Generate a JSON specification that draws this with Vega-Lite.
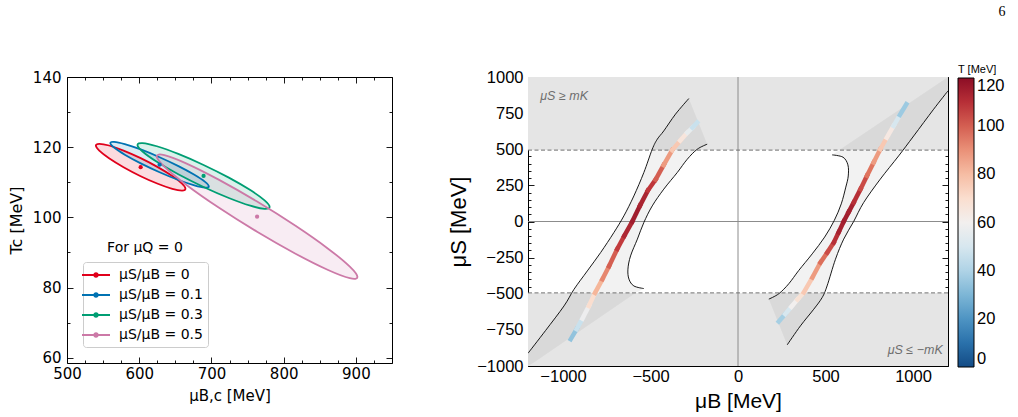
{
 "$schema": "https://vega.github.io/schema/vega-lite/v6.json",
 "background": "white",
 "padding": {"left": 7, "top": 4, "right": 5, "bottom": 5},
 "title": {"text": "6", "anchor": "end", "frame": "bounds", "font": "Liberation Serif", "fontSize": 14, "fontWeight": "normal", "color": "black", "offset": 45},
 "config": {
  "view": {"stroke": "black", "strokeWidth": 1},
  "axis": {"domain": false, "grid": false, "tickColor": "black", "labelColor": "black", "titleColor": "black", "titleFontWeight": "normal", "tickWidth": 0.9, "labelFlush": false, "labelOverlap": false}
 },
 "bounds": "flush",
 "spacing": 136,
 "resolve": {"scale": {"color": "independent"}, "legend": {"color": "independent"}},
 "datasets": {
  "ell": [
   {"s":"0","i":0,"x":664.0,"y":108.14},{"s":"0","i":1,"x":659.3,"y":109.59},{"s":"0","i":2,"x":645.8,"y":111.76},{"s":"0","i":3,"x":625.7,"y":114.31},
   {"s":"0","i":4,"x":602.0,"y":116.87},{"s":"0","i":5,"x":578.3,"y":119.03},{"s":"0","i":6,"x":558.2,"y":120.48},{"s":"0","i":7,"x":544.7,"y":120.97},
   {"s":"0","i":8,"x":540.0,"y":120.46},{"s":"0","i":9,"x":544.7,"y":119.01},{"s":"0","i":10,"x":558.2,"y":116.84},{"s":"0","i":11,"x":578.3,"y":114.29},
   {"s":"0","i":12,"x":602.0,"y":111.73},{"s":"0","i":13,"x":625.7,"y":109.57},{"s":"0","i":14,"x":645.8,"y":108.12},{"s":"0","i":15,"x":659.3,"y":107.63},
   {"s":"0.1","i":0,"x":696.4,"y":108.82},{"s":"0.1","i":1,"x":691.2,"y":110.11},{"s":"0.1","i":2,"x":676.4,"y":112.14},{"s":"0.1","i":3,"x":654.3,"y":114.61},
   {"s":"0.1","i":4,"x":628.2,"y":117.14},{"s":"0.1","i":5,"x":602.1,"y":119.35},{"s":"0.1","i":6,"x":580.0,"y":120.88},{"s":"0.1","i":7,"x":565.2,"y":121.53},
   {"s":"0.1","i":8,"x":560.0,"y":121.18},{"s":"0.1","i":9,"x":565.2,"y":119.89},{"s":"0.1","i":10,"x":580.0,"y":117.86},{"s":"0.1","i":11,"x":602.1,"y":115.39},
   {"s":"0.1","i":12,"x":628.2,"y":112.86},{"s":"0.1","i":13,"x":654.3,"y":110.65},{"s":"0.1","i":14,"x":676.4,"y":109.12},{"s":"0.1","i":15,"x":691.2,"y":108.47},
   {"s":"0.3","i":0,"x":780.6,"y":102.96},{"s":"0.3","i":1,"x":773.6,"y":104.83},{"s":"0.3","i":2,"x":753.8,"y":107.77},{"s":"0.3","i":3,"x":724.1,"y":111.32},
   {"s":"0.3","i":4,"x":689.1,"y":114.94},{"s":"0.3","i":5,"x":654.1,"y":118.08},{"s":"0.3","i":6,"x":624.4,"y":120.27},{"s":"0.3","i":7,"x":604.6,"y":121.17},
   {"s":"0.3","i":8,"x":597.6,"y":120.64},{"s":"0.3","i":9,"x":604.6,"y":118.77},{"s":"0.3","i":10,"x":624.4,"y":115.83},{"s":"0.3","i":11,"x":654.1,"y":112.28},
   {"s":"0.3","i":12,"x":689.1,"y":108.66},{"s":"0.3","i":13,"x":724.1,"y":105.52},{"s":"0.3","i":14,"x":753.8,"y":103.33},{"s":"0.3","i":15,"x":773.6,"y":102.43},
   {"s":"0.5","i":0,"x":902.2,"y":83.0},{"s":"0.5","i":1,"x":891.6,"y":85.96},{"s":"0.5","i":2,"x":861.5,"y":91.08},{"s":"0.5","i":3,"x":816.4,"y":97.59},
   {"s":"0.5","i":4,"x":763.2,"y":104.5},{"s":"0.5","i":5,"x":710.0,"y":110.75},{"s":"0.5","i":6,"x":664.9,"y":115.4},{"s":"0.5","i":7,"x":634.8,"y":117.74},
   {"s":"0.5","i":8,"x":624.2,"y":117.4},{"s":"0.5","i":9,"x":634.8,"y":114.44},{"s":"0.5","i":10,"x":664.9,"y":109.32},{"s":"0.5","i":11,"x":710.0,"y":102.81},
   {"s":"0.5","i":12,"x":763.2,"y":95.9},{"s":"0.5","i":13,"x":816.4,"y":89.65},{"s":"0.5","i":14,"x":861.5,"y":85.0},{"s":"0.5","i":15,"x":891.6,"y":82.66}
  ],
  "cent": [
   {"s":"0","x":602.0,"y":114.3},{"s":"0.1","x":628.2,"y":115.0},{"s":"0.3","x":689.1,"y":111.8},{"s":"0.5","x":763.2,"y":100.2}
  ],
  "gray": [
   {"x":-1200,"x2":1200,"y":494,"y2":1000},{"x":-1200,"x2":1200,"y":-1000,"y2":-494}
  ],
  "bands": [
   {"b":"L","i":0,"x":-1200,"y":-912},{"b":"L","i":1,"x":-1100,"y":-755},{"b":"L","i":2,"x":-994,"y":-584},{"b":"L","i":3,"x":-937,"y":-469},
   {"b":"L","i":4,"x":-861,"y":-342},{"b":"L","i":5,"x":-785,"y":-215},{"b":"L","i":6,"x":-709,"y":-76},{"b":"L","i":7,"x":-652,"y":39},
   {"b":"L","i":8,"x":-595,"y":177},{"b":"L","i":9,"x":-538,"y":339},{"b":"L","i":10,"x":-490,"y":500},{"b":"L","i":11,"x":-461,"y":570},
   {"b":"L","i":12,"x":-424,"y":627},{"b":"L","i":13,"x":-357,"y":743},{"b":"L","i":14,"x":-281,"y":851},{"b":"L","i":15,"x":-176,"y":535},
   {"b":"L","i":16,"x":-233,"y":500},{"b":"L","i":17,"x":-290,"y":431},{"b":"L","i":18,"x":-347,"y":339},{"b":"L","i":19,"x":-424,"y":224},
   {"b":"L","i":20,"x":-490,"y":108},{"b":"L","i":21,"x":-538,"y":-7},{"b":"L","i":22,"x":-575,"y":-122},{"b":"L","i":23,"x":-614,"y":-238},
   {"b":"L","i":24,"x":-629,"y":-330},{"b":"L","i":25,"x":-623,"y":-399},{"b":"L","i":26,"x":-595,"y":-446},{"b":"L","i":27,"x":-538,"y":-464},
   {"b":"L","i":28,"x":-592,"y":-500},{"b":"L","i":29,"x":-1166,"y":-976},{"b":"L","i":30,"x":-1200,"y":-1000},
   {"b":"R","i":0,"x":1200,"y":904},{"b":"R","i":1,"x":1118,"y":777},{"b":"R","i":2,"x":1004,"y":592},{"b":"R","i":3,"x":918,"y":454},
   {"b":"R","i":4,"x":813,"y":293},{"b":"R","i":5,"x":718,"y":131},{"b":"R","i":6,"x":661,"y":0},{"b":"R","i":7,"x":604,"y":-122},
   {"b":"R","i":8,"x":557,"y":-261},{"b":"R","i":9,"x":509,"y":-446},{"b":"R","i":10,"x":481,"y":-526},{"b":"R","i":11,"x":433,"y":-607},
   {"b":"R","i":12,"x":357,"y":-722},{"b":"R","i":13,"x":281,"y":-854},{"b":"R","i":14,"x":176,"y":-537},{"b":"R","i":15,"x":233,"y":-500},
   {"b":"R","i":16,"x":290,"y":-431},{"b":"R","i":17,"x":347,"y":-339},{"b":"R","i":18,"x":424,"y":-224},{"b":"R","i":19,"x":495,"y":-108},
   {"b":"R","i":20,"x":550,"y":7},{"b":"R","i":21,"x":590,"y":122},{"b":"R","i":22,"x":616,"y":238},{"b":"R","i":23,"x":630,"y":315},
   {"b":"R","i":24,"x":628,"y":392},{"b":"R","i":25,"x":600,"y":445},{"b":"R","i":26,"x":538,"y":461},{"b":"R","i":27,"x":585,"y":500},
   {"b":"R","i":28,"x":1200,"y":1000}
  ],
  "curves": [
   {"c":"L1","i":0,"x":-1200,"y":-912},{"c":"L1","i":1,"x":-1100,"y":-755},{"c":"L1","i":2,"x":-994,"y":-584},{"c":"L1","i":3,"x":-937,"y":-469},
   {"c":"L1","i":4,"x":-861,"y":-342},{"c":"L1","i":5,"x":-785,"y":-215},{"c":"L1","i":6,"x":-709,"y":-76},{"c":"L1","i":7,"x":-652,"y":39},
   {"c":"L1","i":8,"x":-595,"y":177},{"c":"L1","i":9,"x":-538,"y":339},{"c":"L1","i":10,"x":-490,"y":500},{"c":"L1","i":11,"x":-461,"y":570},
   {"c":"L1","i":12,"x":-424,"y":627},{"c":"L1","i":13,"x":-357,"y":743},{"c":"L1","i":14,"x":-281,"y":851},
   {"c":"L2","i":0,"x":-176,"y":535},{"c":"L2","i":1,"x":-233,"y":500},{"c":"L2","i":2,"x":-290,"y":431},{"c":"L2","i":3,"x":-347,"y":339},
   {"c":"L2","i":4,"x":-424,"y":224},{"c":"L2","i":5,"x":-490,"y":108},{"c":"L2","i":6,"x":-538,"y":-7},{"c":"L2","i":7,"x":-575,"y":-122},
   {"c":"L2","i":8,"x":-614,"y":-238},{"c":"L2","i":9,"x":-629,"y":-330},{"c":"L2","i":10,"x":-623,"y":-399},{"c":"L2","i":11,"x":-595,"y":-446},
   {"c":"L2","i":12,"x":-538,"y":-464},
   {"c":"R1","i":0,"x":538,"y":461},{"c":"R1","i":1,"x":600,"y":445},{"c":"R1","i":2,"x":628,"y":392},{"c":"R1","i":3,"x":630,"y":315},
   {"c":"R1","i":4,"x":616,"y":238},{"c":"R1","i":5,"x":590,"y":122},{"c":"R1","i":6,"x":550,"y":7},{"c":"R1","i":7,"x":495,"y":-108},
   {"c":"R1","i":8,"x":424,"y":-224},{"c":"R1","i":9,"x":347,"y":-339},{"c":"R1","i":10,"x":290,"y":-431},{"c":"R1","i":11,"x":233,"y":-500},
   {"c":"R1","i":12,"x":176,"y":-537},
   {"c":"R2","i":0,"x":1200,"y":904},{"c":"R2","i":1,"x":1118,"y":777},{"c":"R2","i":2,"x":1004,"y":592},{"c":"R2","i":3,"x":918,"y":454},
   {"c":"R2","i":4,"x":813,"y":293},{"c":"R2","i":5,"x":718,"y":131},{"c":"R2","i":6,"x":661,"y":0},{"c":"R2","i":7,"x":604,"y":-122},
   {"c":"R2","i":8,"x":557,"y":-261},{"c":"R2","i":9,"x":509,"y":-446},{"c":"R2","i":10,"x":481,"y":-526},{"c":"R2","i":11,"x":433,"y":-607},
   {"c":"R2","i":12,"x":357,"y":-722},{"c":"R2","i":13,"x":281,"y":-854}
  ],
  "segs": [
   {"x":-956,"y":-815,"x2":-922,"y2":-745,"T":34},{"x":-922,"y":-745,"x2":-889,"y2":-672,"T":46},{"x":-889,"y":-672,"x2":-852,"y2":-585,"T":58},
   {"x":-852,"y":-585,"x2":-817,"y2":-494,"T":70},{"x":-817,"y":-494,"x2":-775,"y2":-400,"T":82},{"x":-775,"y":-400,"x2":-737,"y2":-310,"T":92},
   {"x":-737,"y":-310,"x2":-690,"y2":-190,"T":100},{"x":-690,"y":-190,"x2":-650,"y2":-100,"T":107},{"x":-650,"y":-100,"x2":-604,"y2":0,"T":112},
   {"x":-604,"y":0,"x2":-560,"y2":110,"T":115},{"x":-560,"y":110,"x2":-515,"y2":215,"T":113},{"x":-515,"y":215,"x2":-471,"y2":290,"T":108},
   {"x":-471,"y":290,"x2":-425,"y2":390,"T":100},{"x":-425,"y":390,"x2":-376,"y2":494,"T":88},{"x":-376,"y":494,"x2":-330,"y2":560,"T":77},
   {"x":-330,"y":560,"x2":-290,"y2":615,"T":66},{"x":-290,"y":615,"x2":-260,"y2":650,"T":56},{"x":-260,"y":650,"x2":-233,"y2":685,"T":46},
   {"x":233,"y":-692,"x2":270,"y2":-640,"T":38},{"x":270,"y":-640,"x2":305,"y2":-590,"T":50},{"x":305,"y":-590,"x2":340,"y2":-540,"T":60},
   {"x":340,"y":-540,"x2":376,"y2":-491,"T":68},{"x":376,"y":-491,"x2":425,"y2":-388,"T":77},{"x":425,"y":-388,"x2":471,"y2":-284,"T":88},
   {"x":471,"y":-284,"x2":510,"y2":-215,"T":97},{"x":510,"y":-215,"x2":547,"y2":-146,"T":104},{"x":547,"y":-146,"x2":575,"y2":-75,"T":110},
   {"x":575,"y":-75,"x2":604,"y2":0,"T":114},{"x":604,"y":0,"x2":632,"y2":65,"T":115},{"x":632,"y":65,"x2":661,"y2":131,"T":114},
   {"x":661,"y":131,"x2":700,"y2":224,"T":110},{"x":700,"y":224,"x2":737,"y2":316,"T":104},{"x":737,"y":316,"x2":775,"y2":408,"T":96},
   {"x":775,"y":408,"x2":813,"y2":500,"T":88},{"x":813,"y":500,"x2":850,"y2":580,"T":77},{"x":850,"y":580,"x2":889,"y2":662,"T":64},
   {"x":889,"y":662,"x2":925,"y2":737,"T":50},{"x":925,"y":737,"x2":962,"y2":812,"T":36}
  ]
 },
 "hconcat": [
  {
   "width": 325, "height": 286,
   "layer": [
    {
     "data": {"name": "ell"},
     "mark": {"type": "line", "filled": true, "interpolate": "cardinal-closed", "fillOpacity": 0.14, "strokeWidth": 0},
     "encoding": {
      "x": {"field": "x", "type": "quantitative", "scale": {"domain": [500, 950], "nice": false, "zero": false},
            "axis": {"orient": "bottom", "values": [500,525,550,575,600,625,650,675,700,725,750,775,800,825,850,875,900,925,950], "format": "d",
                     "labelExpr": "datum.value % 100 === 0 ? datum.label : ''",
                     "tickSize": {"condition": {"test": "datum.value % 100 === 0", "value": -6}, "value": -3},
                     "labelPadding": 9, "labelFont": "DejaVu Sans", "labelFontSize": 15,
                     "title": "μB,c [MeV]", "titleFont": "DejaVu Sans", "titleFontSize": 15, "titlePadding": 4}},
      "y": {"field": "y", "type": "quantitative", "scale": {"domain": [58.5, 140], "nice": false, "zero": false},
            "axis": {"orient": "left", "values": [60,70,80,90,100,110,120,130,140], "format": "d",
                     "labelExpr": "datum.value % 20 === 0 ? datum.label : ''",
                     "tickSize": {"condition": {"test": "datum.value % 20 === 0", "value": -6}, "value": -3},
                     "labelPadding": 12, "labelFont": "DejaVu Sans", "labelFontSize": 15,
                     "title": "Tc [MeV]", "titleFont": "DejaVu Sans", "titleFontSize": 16, "titlePadding": 8}},
      "color": {"field": "s", "type": "nominal", "scale": {"domain": ["0","0.1","0.3","0.5"], "range": ["#e0001b","#0072b2","#009e73","#cc79a7"]},
                "legend": {"title": null, "orient": "bottom-left", "offset": 16,
                           "symbolType": "M-2,0L2,0M-0.25,0A0.25,0.25,0,1,1,0.25,0A0.25,0.25,0,1,1,-0.25,0Z",
                           "symbolSize": 196, "symbolStrokeWidth": 2,
                           "labelFont": "DejaVu Sans", "labelFontSize": 14, "labelColor": "black", "labelOffset": 15,
                           "labelExpr": "'μS/μB = ' + datum.label",
                           "strokeColor": "#cccccc", "fillColor": "white", "padding": 5, "cornerRadius": 3, "rowPadding": 5}},
      "detail": {"field": "s"},
      "order": {"field": "i", "type": "quantitative"}
     }
    },
    {
     "data": {"name": "ell"},
     "mark": {"type": "line", "interpolate": "cardinal-closed", "strokeWidth": 1.8},
     "encoding": {
      "x": {"field": "x", "type": "quantitative", "scale": {"domain": [500, 950], "nice": false, "zero": false},
            "axis": {"orient": "top", "values": [500,525,550,575,600,625,650,675,700,725,750,775,800,825,850,875,900,925,950], "labels": false, "title": null,
                     "tickSize": {"condition": {"test": "datum.value % 100 === 0", "value": -6}, "value": -3}}},
      "y": {"field": "y", "type": "quantitative", "scale": {"domain": [58.5, 140], "nice": false, "zero": false},
            "axis": {"orient": "right", "values": [60,70,80,90,100,110,120,130,140], "labels": false, "title": null,
                     "tickSize": {"condition": {"test": "datum.value % 20 === 0", "value": -6}, "value": -3}}},
      "color": {"field": "s", "type": "nominal", "scale": {"domain": ["0","0.1","0.3","0.5"], "range": ["#e0001b","#0072b2","#009e73","#cc79a7"]},
                "legend": {"title": null, "orient": "bottom-left", "offset": 16,
                           "symbolType": "M-2,0L2,0M-0.25,0A0.25,0.25,0,1,1,0.25,0A0.25,0.25,0,1,1,-0.25,0Z",
                           "symbolSize": 196, "symbolStrokeWidth": 2,
                           "labelFont": "DejaVu Sans", "labelFontSize": 14, "labelColor": "black", "labelOffset": 15,
                           "labelExpr": "'μS/μB = ' + datum.label",
                           "strokeColor": "#cccccc", "fillColor": "white", "padding": 5, "cornerRadius": 3, "rowPadding": 5}},
      "detail": {"field": "s"},
      "order": {"field": "i", "type": "quantitative"}
     }
    },
    {
     "data": {"name": "cent"},
     "mark": {"type": "point", "filled": true, "size": 18, "opacity": 1},
     "encoding": {
      "x": {"field": "x", "type": "quantitative", "axis": null},
      "y": {"field": "y", "type": "quantitative", "axis": null},
      "color": {"field": "s", "type": "nominal", "scale": {"domain": ["0","0.1","0.3","0.5"], "range": ["#e0001b","#0072b2","#009e73","#cc79a7"]},
                "legend": {"title": null, "orient": "bottom-left", "offset": 16,
                           "symbolType": "M-2,0L2,0M-0.25,0A0.25,0.25,0,1,1,0.25,0A0.25,0.25,0,1,1,-0.25,0Z",
                           "symbolSize": 196, "symbolStrokeWidth": 2,
                           "labelFont": "DejaVu Sans", "labelFontSize": 14, "labelColor": "black", "labelOffset": 15,
                           "labelExpr": "'μS/μB = ' + datum.label",
                           "strokeColor": "#cccccc", "fillColor": "white", "padding": 5, "cornerRadius": 3, "rowPadding": 5}}
     }
    },
    {
     "data": {"values": [{"x": 608, "y": 91.3, "t": "For μQ = 0"}]},
     "mark": {"type": "text", "font": "DejaVu Sans", "fontSize": 14, "color": "black"},
     "encoding": {
      "x": {"field": "x", "type": "quantitative", "axis": null},
      "y": {"field": "y", "type": "quantitative", "axis": null},
      "text": {"field": "t"}
     }
    }
   ],
   "resolve": {"axis": {"x": "independent", "y": "independent"}}
  },
  {
   "width": 420, "height": 289,
   "layer": [
    {
     "data": {"name": "gray"},
     "mark": {"type": "rect", "color": "#e5e5e5"},
     "encoding": {
      "x": {"field": "x", "type": "quantitative", "scale": {"domain": [-1200, 1200], "nice": false, "zero": false},
            "axis": {"orient": "bottom", "values": [-1200,-1100,-1000,-900,-800,-700,-600,-500,-400,-300,-200,-100,0,100,200,300,400,500,600,700,800,900,1000,1100,1200], "format": "d",
                     "labelExpr": "datum.value % 500 === 0 ? datum.label : ''",
                     "tickSize": {"condition": {"test": "datum.value % 500 === 0", "value": -6}, "value": -3},
                     "labelPadding": 8, "labelFont": "Liberation Sans", "labelFontSize": 16.5,
                     "title": "μB [MeV]", "titleFont": "Liberation Sans", "titleFontSize": 21, "titlePadding": 3}},
      "x2": {"field": "x2"},
      "y": {"field": "y", "type": "quantitative", "scale": {"domain": [-1000, 1000], "nice": false, "zero": false},
            "axis": {"orient": "left", "values": [-1000,-950,-900,-850,-800,-750,-700,-650,-600,-550,-500,-450,-400,-350,-300,-250,-200,-150,-100,-50,0,50,100,150,200,250,300,350,400,450,500,550,600,650,700,750,800,850,900,950,1000], "format": "d",
                     "labelExpr": "datum.value % 250 === 0 ? datum.label : ''",
                     "tickSize": {"condition": {"test": "datum.value % 250 === 0", "value": -6}, "value": -3},
                     "labelPadding": 11, "labelFont": "Liberation Sans", "labelFontSize": 16.5,
                     "title": "μS [MeV]", "titleFont": "Liberation Sans", "titleFontSize": 22, "titlePadding": 6}},
      "y2": {"field": "y2"}
     }
    },
    {
     "data": {"name": "bands"},
     "mark": {"type": "line", "filled": true, "color": "black", "fillOpacity": 0.05, "strokeWidth": 0, "interpolate": "linear-closed", "clip": true},
     "encoding": {
      "x": {"field": "x", "type": "quantitative", "axis": null},
      "y": {"field": "y", "type": "quantitative", "axis": null},
      "detail": {"field": "b"},
      "order": {"field": "i", "type": "quantitative"}
     }
    },
    {
     "data": {"values": [{"x": 0}]},
     "mark": {"type": "rule", "color": "#8c8c8c", "strokeWidth": 1},
     "encoding": {"x": {"field": "x", "type": "quantitative", "axis": null}}
    },
    {
     "data": {"values": [{"y": 0}]},
     "mark": {"type": "rule", "color": "#8c8c8c", "strokeWidth": 1},
     "encoding": {"y": {"field": "y", "type": "quantitative", "axis": null}}
    },
    {
     "data": {"values": [{"y": 494}, {"y": -494}]},
     "mark": {"type": "rule", "color": "#707070", "strokeWidth": 1, "strokeDash": [4, 2.5]},
     "encoding": {"y": {"field": "y", "type": "quantitative", "axis": null}}
    },
    {
     "data": {"name": "curves"},
     "mark": {"type": "line", "color": "black", "strokeWidth": 0.9, "interpolate": "cardinal", "clip": true},
     "encoding": {
      "x": {"field": "x", "type": "quantitative",
            "axis": {"orient": "top", "values": [-1200,-1100,-1000,-900,-800,-700,-600,-500,-400,-300,-200,-100,0,100,200,300,400,500,600,700,800,900,1000,1100,1200], "labels": false, "title": null,
                     "tickSize": {"condition": {"test": "datum.value % 500 === 0", "value": -6}, "value": -3}}},
      "y": {"field": "y", "type": "quantitative",
            "axis": {"orient": "right", "values": [-1000,-950,-900,-850,-800,-750,-700,-650,-600,-550,-500,-450,-400,-350,-300,-250,-200,-150,-100,-50,0,50,100,150,200,250,300,350,400,450,500,550,600,650,700,750,800,850,900,950,1000], "labels": false, "title": null,
                     "tickSize": {"condition": {"test": "datum.value % 250 === 0", "value": -6}, "value": -3}}},
      "detail": {"field": "c"},
      "order": {"field": "i", "type": "quantitative"}
     }
    },
    {
     "data": {"name": "segs"},
     "mark": {"type": "rule", "strokeWidth": 4.5, "strokeCap": "square"},
     "encoding": {
      "x": {"field": "x", "type": "quantitative", "axis": null},
      "y": {"field": "y", "type": "quantitative", "axis": null},
      "x2": {"field": "x2"},
      "y2": {"field": "y2"},
      "color": {"field": "T", "type": "quantitative", "scale": {"scheme": "redblue", "reverse": true, "domain": [0, 120]},
                "legend": {"type": "gradient", "orient": "none", "legendX": 430, "legendY": -13, "direction": "vertical",
                           "gradientLength": 289, "gradientThickness": 16, "gradientStrokeColor": "black", "gradientStrokeWidth": 1,
                           "title": "T [MeV]", "titleFont": "Liberation Sans", "titleFontSize": 11, "titleFontWeight": "normal", "titleColor": "black", "titlePadding": 3,
                           "values": [0, 20, 40, 60, 80, 100, 120], "labelFont": "Liberation Sans", "labelFontSize": 16.5, "labelColor": "black", "labelOffset": 3, "labelOverlap": false}}
     }
    },
    {
     "data": {"values": [{"x": -1130, "y": 868, "t": "μS ≥ mK"}]},
     "mark": {"type": "text", "align": "left", "font": "Liberation Sans", "fontSize": 12.5, "fontStyle": "italic", "color": "#6e6e6e"},
     "encoding": {
      "x": {"field": "x", "type": "quantitative", "axis": null},
      "y": {"field": "y", "type": "quantitative", "axis": null},
      "text": {"field": "t"}
     }
    },
    {
     "data": {"values": [{"x": 1170, "y": -888, "t": "μS ≤ −mK"}]},
     "mark": {"type": "text", "align": "right", "font": "Liberation Sans", "fontSize": 12.5, "fontStyle": "italic", "color": "#6e6e6e"},
     "encoding": {
      "x": {"field": "x", "type": "quantitative", "axis": null},
      "y": {"field": "y", "type": "quantitative", "axis": null},
      "text": {"field": "t"}
     }
    }
   ],
   "resolve": {"axis": {"x": "independent", "y": "independent"}}
  }
 ]
}
